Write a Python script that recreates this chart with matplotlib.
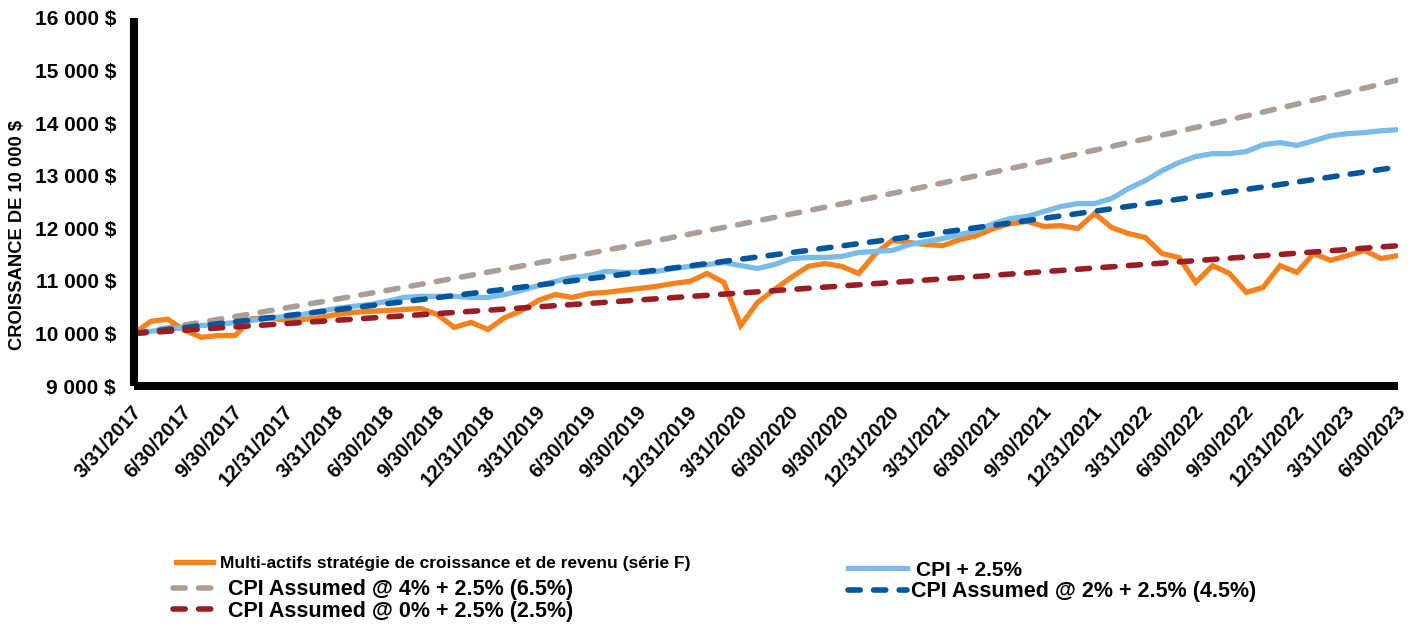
import matplotlib.pyplot as plt
import matplotlib.transforms as mtransforms
from matplotlib.ticker import FuncFormatter, MultipleLocator
import numpy as np

plt.rcParams['font.family'] = ['Liberation Sans', 'DejaVu Sans']
plt.rcParams['font.weight'] = 'bold'

# quarter-end tick labels (monthly data, one label every 3 months)
QUARTER_LABELS = [
    "3/31/2017", "6/30/2017", "9/30/2017", "12/31/2017",
    "3/31/2018", "6/30/2018", "9/30/2018", "12/31/2018",
    "3/31/2019", "6/30/2019", "9/30/2019", "12/31/2019",
    "3/31/2020", "6/30/2020", "9/30/2020", "12/31/2020",
    "3/31/2021", "6/30/2021", "9/30/2021", "12/31/2021",
    "3/31/2022", "6/30/2022", "9/30/2022", "12/31/2022",
    "3/31/2023", "6/30/2023",
]

# monthly growth of 10 000 $
FUND = [
    10000, 10230, 10270, 10060, 9925, 9960, 9960, 10280, 10300, 10250,
    10265, 10300, 10360, 10400, 10420, 10435, 10455, 10475, 10360, 10115,
    10210, 10075, 10300, 10435, 10630, 10740, 10685, 10760, 10780, 10820,
    10855, 10895, 10950, 10990, 11140, 10970, 10150, 10590, 10835, 11065,
    11275, 11330, 11275, 11140, 11520, 11770, 11730, 11690, 11670, 11785,
    11860, 11995, 12090, 12130, 12035, 12050, 11995, 12280, 12015, 11900,
    11825, 11520, 11445, 10970, 11290, 11140, 10780, 10875, 11290, 11160,
    11520, 11390, 11480, 11580, 11425, 11480,
]

CPI_PLUS = [
    10000, 10040, 10075, 10115, 10150, 10170, 10210, 10250, 10285, 10325,
    10360, 10420, 10475, 10515, 10550, 10610, 10685, 10705, 10705, 10705,
    10685, 10685, 10740, 10820, 10910, 10990, 11065, 11100, 11180, 11160,
    11160, 11180, 11235, 11275, 11310, 11350, 11290, 11235, 11310, 11425,
    11445, 11445, 11465, 11540, 11560, 11580, 11690, 11750, 11805, 11880,
    11955, 12090, 12185, 12225, 12320, 12415, 12470, 12470, 12565, 12755,
    12905, 13095, 13250, 13365, 13420, 13420, 13460, 13590, 13630, 13575,
    13665, 13760, 13800, 13820, 13855, 13875,
]

# assumed-CPI reference lines, quarterly
CPI_4 = [
    10000, 10159, 10320, 10484, 10650, 10819, 10991, 11165, 11342, 11522,
    11705, 11891, 12079, 12271, 12465, 12663, 12864, 13068, 13275, 13486,
    13700, 13917, 14137, 14362, 14589, 14821,
]
CPI_2 = [
    10000, 10111, 10222, 10335, 10450, 10565, 10682, 10800, 10920, 11041,
    11163, 11286, 11412, 11538, 11665, 11794, 11925, 12057, 12190, 12325,
    12462, 12600, 12739, 12880, 13023, 13167,
]
CPI_0 = [
    10000, 10062, 10124, 10187, 10250, 10313, 10377, 10442, 10506, 10571,
    10637, 10703, 10769, 10836, 10903, 10970, 11038, 11106, 11175, 11244,
    11314, 11384, 11455, 11526, 11597, 11669,
]

ORANGE = "#F5821F"
LIGHT_BLUE = "#7ABBE7"
GRAY = "#A89F98"
BLUE = "#00569C"
RED = "#981D25"

months = np.arange(len(FUND))
quarters = np.arange(len(CPI_4)) * 3

fig = plt.figure(figsize=(14.17, 6.27), dpi=100)
ax = fig.add_axes([134 / 1417, 1 - 386 / 627, (1398 - 134) / 1417, (386 - 18) / 627])

dash = (2.2, 2.4)
l_fund, = ax.plot(months, FUND, color=ORANGE, lw=3.8, solid_joinstyle="miter")
l_cpi, = ax.plot(months, CPI_PLUS, color=LIGHT_BLUE, lw=3.8)
l_4, = ax.plot(quarters, CPI_4, color=GRAY, lw=4, dashes=dash, dash_capstyle="round")
l_2, = ax.plot(quarters, CPI_2, color=BLUE, lw=4, dashes=dash, dash_capstyle="round")
l_0, = ax.plot(quarters, CPI_0, color=RED, lw=4, dashes=dash, dash_capstyle="round")

ax.set_xlim(0, 75)
ax.set_ylim(9000, 16000)
ax.yaxis.set_major_locator(MultipleLocator(1000))
ax.yaxis.set_major_formatter(FuncFormatter(lambda v, p: f"{v:,.0f}".replace(",", " ") + " $"))
ax.set_xticks(np.arange(len(QUARTER_LABELS)) * 3)
ax.set_xticklabels(QUARTER_LABELS, rotation=48, ha="right", va="center",
                   rotation_mode="anchor", fontsize=14.5, fontweight="bold")
ax.tick_params(axis="both", length=0)
ax.tick_params(axis="y", labelsize=15, pad=13)
ax.tick_params(axis="x", pad=16)

offset = mtransforms.ScaledTranslation(4 / 100, 0, fig.dpi_scale_trans)
for lbl in ax.get_xticklabels():
    lbl.set_transform(lbl.get_transform() + offset)

for side in ("top", "right"):
    ax.spines[side].set_visible(False)
for side in ("left", "bottom"):
    ax.spines[side].set_linewidth(5.8)
    ax.spines[side].set_color("black")
    ax.spines[side].set_capstyle("butt")

ax.set_ylabel("CROISSANCE DE 10 000 $", fontsize=13.2, fontweight="bold")
ax.yaxis.set_label_coords(-0.0855, 0.41)

W, H = 1417, 627
fig.legend([l_fund], ["Multi-actifs stratégie de croissance et de revenu (série F)"],
           loc="center left", bbox_to_anchor=(176 / W, 1 - 563 / H), frameon=False,
           fontsize=12.5, handlelength=2.13, handletextpad=0.4, borderpad=0, borderaxespad=0)
fig.legend([l_4], ["CPI Assumed @ 4% + 2.5% (6.5%)"],
           loc="center left", bbox_to_anchor=(173 / W, 1 - 590 / H), frameon=False,
           fontsize=15.5, handlelength=2.32, handletextpad=0.23, borderpad=0, borderaxespad=0)
fig.legend([l_0], ["CPI Assumed @ 0% + 2.5% (2.5%)"],
           loc="center left", bbox_to_anchor=(173 / W, 1 - 611 / H), frameon=False,
           fontsize=15.5, handlelength=2.32, handletextpad=0.23, borderpad=0, borderaxespad=0)
fig.legend([l_cpi], ["CPI + 2.5%"],
           loc="center left", bbox_to_anchor=(848 / W, 1 - 570 / H), frameon=False,
           fontsize=15, handlelength=2.83, handletextpad=0.43, borderpad=0, borderaxespad=0)
fig.legend([l_2], ["CPI Assumed @ 2% + 2.5% (4.5%)"],
           loc="center left", bbox_to_anchor=(848 / W, 1 - 592 / H), frameon=False,
           fontsize=15.5, handlelength=2.74, handletextpad=0.19, borderpad=0, borderaxespad=0)

fig.savefig("out.png", dpi=100)
